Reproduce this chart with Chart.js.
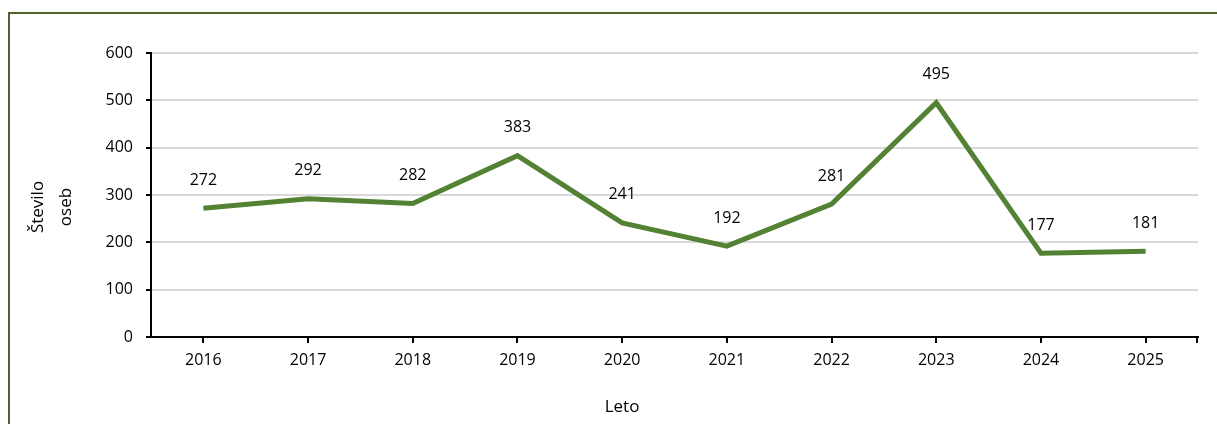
<!DOCTYPE html>
<html>
<head>
<meta charset="utf-8">
<script src="https://cdn.jsdelivr.net/npm/chart.js@4.4.1/dist/chart.umd.min.js"></script>
<style>
  html, body { margin: 0; padding: 0; background: #fff; }
  #wrap { position: relative; width: 1217px; height: 424px; overflow: hidden; }
  #frame {
    position: absolute; left: 8px; top: 12px; width: 1240px; height: 440px;
    border: 2px solid #4f6228; box-sizing: border-box;
  }
  #chart { position: absolute; left: 0; top: 0; }
</style>
</head>
<body>
<div id="wrap">
  <div id="frame"></div>
  <canvas id="chart" width="1217" height="424"></canvas>
</div>
<script>
// Data
const years = ['2016', '2017', '2018', '2019', '2020', '2021', '2022', '2023', '2024', '2025'];
const persons = [272, 292, 282, 383, 241, 192, 281, 495, 177, 181];
const yTitleLines = ['Število', 'oseb'];
const xTitle = 'Leto';

const FONT = "'Open Sans', 'Liberation Sans', sans-serif";
const GREEN = '#548235';

// value labels above each point
const valueLabels = {
  id: 'valueLabels',
  afterDatasetsDraw(chart) {
    const ctx = chart.ctx;
    const meta = chart.getDatasetMeta(0);
    ctx.save();
    ctx.font = '16px ' + FONT;
    ctx.fillStyle = '#000';
    ctx.textAlign = 'center';
    ctx.textBaseline = 'middle';
    meta.data.forEach((pt, i) => {
      ctx.fillText(String(persons[i]), pt.x, pt.y - 28);
    });
    ctx.restore();
  }
};

// axis titles + closing tick on the category axis
const axisExtras = {
  id: 'axisExtras',
  afterDraw(chart) {
    const ctx = chart.ctx;
    const x = chart.scales.x;
    ctx.save();
    ctx.strokeStyle = '#000';
    ctx.lineWidth = 2;
    ctx.beginPath();
    ctx.moveTo(x.right - 1, x.top);
    ctx.lineTo(x.right - 1, x.top + 6);
    ctx.stroke();

    ctx.font = '17px ' + FONT;
    ctx.fillStyle = '#000';
    ctx.textAlign = 'center';
    ctx.textBaseline = 'middle';
    ctx.fillText(xTitle, 622, 407);

    yTitleLines.forEach((line, i) => {
      ctx.save();
      ctx.translate(38 + i * 28, 207);
      ctx.rotate(-Math.PI / 2);
      ctx.fillText(line, 0, 0);
      ctx.restore();
    });
    ctx.restore();
  }
};

new Chart(document.getElementById('chart'), {
  type: 'line',
  data: {
    labels: years,
    datasets: [{
      data: persons,
      borderColor: GREEN,
      backgroundColor: GREEN,
      borderWidth: 5,
      pointRadius: 0,
      pointHoverRadius: 0,
      tension: 0,
      fill: false
    }]
  },
  options: {
    responsive: false,
    animation: false,
    events: [],
    layout: { padding: { top: 53, right: 19, left: 0, bottom: 0 } },
    plugins: {
      legend: { display: false },
      tooltip: { enabled: false }
    },
    scales: {
      x: {
        offset: true,
        grid: {
          drawOnChartArea: false,
          tickLength: 6,
          tickColor: '#000',
          lineWidth: 2
        },
        border: { color: '#000', width: 2 },
        ticks: { color: '#000', font: { family: FONT, size: 16 }, padding: 8 },
        afterFit(s) { s.height = 87; }
      },
      y: {
        min: 0,
        max: 600,
        ticks: {
          stepSize: 100,
          color: '#000',
          font: { family: FONT, size: 16 },
          padding: 13
        },
        grid: {
          color: '#d9d9d9',
          lineWidth: 2,
          tickColor: '#000',
          tickLength: 5
        },
        border: { color: '#000', width: 2 },
        afterFit(s) { s.width = 151; }
      }
    }
  },
  plugins: [valueLabels, axisExtras]
});
</script>
</body>
</html>
